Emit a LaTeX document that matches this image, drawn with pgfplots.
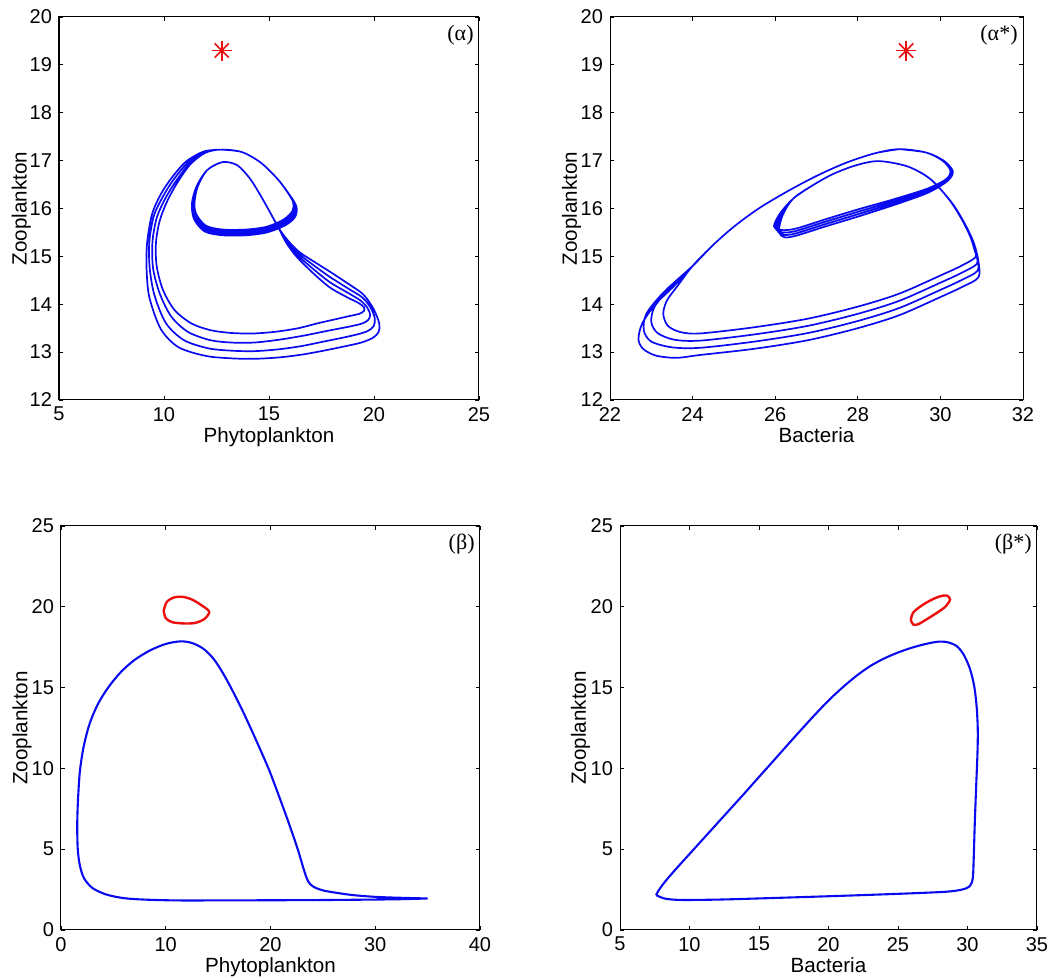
\documentclass[border=0pt]{standalone}
\usepackage{fontspec}
\setmainfont{Liberation Sans}
\newfontfamily\lserif{Liberation Serif}
\usepackage{pgfplots}
\pgfplotsset{compat=1.18}
\definecolor{mblue}{RGB}{10,10,240}
\definecolor{mred}{RGB}{235,15,15}
\pgfplotsset{
 panel/.style={
  scale only axis, anchor=south west,
  axis line style={line width=0.5pt},
  every tick/.style={black, line width=0.45pt},
  major tick length=2.2pt,
  tick align=inside,
  ticklabel style={font=\fontsize{10}{11}\selectfont},
  label style={font=\fontsize{10.3}{12}\selectfont},
  /pgf/number format/assume math mode=true,
  xlabel style={anchor=base},
  ylabel style={anchor=base},
 },
 traj/.style={mblue, line width=0.85pt, smooth, no markers},
 lim/.style={mred, line width=1.2pt, smooth, no markers},
 star/.style={only marks, mark size=5pt, mred, mark options={line width=0.8pt}},
}
\newcommand{\plab}[1]{\node[anchor=north east, inner sep=0pt, xshift=-2.5pt, yshift=-4pt, font=\lserif\fontsize{11}{12}\selectfont] at (rel axis cs:1,1) {#1};}
\begin{document}
\begin{tikzpicture}
\useasboundingbox (0,0) rectangle (531pt,489pt);
% ---------------- (alpha)
\begin{axis}[panel, at={(29.5pt,289pt)}, width=210pt, height=191.5pt,
  xmin=5, xmax=25, ymin=12, ymax=20, xtick={5,10,...,25}, ytick={12,13,...,20},
  xlabel={Phytoplankton}, ylabel={Zooplankton},
  xlabel style={at={(axis description cs:0.5,-0.112)}},
  ylabel style={at={(axis description cs:-0.077,0.5)}}]
\addplot[traj] coordinates {
(12.7,17.23) (13.7,17.18) (14.6,16.96) (15.4,16.62) (15.88,16.34) (16.15,16.13) (16.12,15.95) (15.7,15.77) (14.9,15.62) (13.9,15.56) (12.8,15.56) (12.0,15.64) (11.55,15.87) (11.45,16.1) (11.6,16.45) (12.05,16.8) (12.8,16.97) (13.5,16.9) (14.1,16.62) (14.6,16.27) (15.05,15.92) (15.45,15.6) (15.8,15.3) (16.3,15.0) (17.1,14.65) (17.9,14.35) (18.7,14.15) (19.25,14.03) (19.52,13.94) (19.52,13.86) (19.3,13.8) (18.8,13.75) (18.1,13.68) (17.3,13.6) (16.4,13.5) (15.4,13.43) (14.3,13.39) (13.2,13.4) (12.2,13.46) (11.3,13.6) (10.5,13.88) (9.95,14.3) (9.65,14.8) (9.62,15.3) (9.8,15.75) (10.15,16.15) (10.65,16.55) (11.25,16.92) (11.95,17.16)
(12.7,17.23) (13.7,17.18) (14.6,16.96) (15.4,16.62) (15.9,16.33) (16.2,16.11) (16.16,15.91) (15.72,15.73) (14.9,15.58) (13.9,15.52) (12.8,15.52) (11.98,15.6) (11.51,15.84) (11.41,16.1) (11.58,16.45) (12.05,16.8) (12.8,16.97) (13.5,16.9) (14.1,16.62) (14.6,16.27) (15.05,15.92) (15.45,15.6) (15.83,15.31) (16.35,15.03) (17.15,14.72) (17.9,14.46) (18.75,14.24) (19.35,14.08) (19.68,13.93) (19.82,13.78) (19.72,13.67) (19.45,13.6) (18.9,13.54) (18.2,13.48) (17.4,13.41) (16.6,13.34) (15.5,13.26) (14.3,13.2) (13.2,13.2) (12.2,13.25) (11.15,13.42) (10.35,13.74) (9.8,14.22) (9.48,14.75) (9.45,15.3) (9.65,15.8) (10.05,16.2) (10.55,16.56) (11.2,16.93) (11.93,17.17)
(12.7,17.23) (13.7,17.18) (14.6,16.96) (15.4,16.62) (15.92,16.32) (16.25,16.08) (16.2,15.87) (15.75,15.69) (14.9,15.54) (13.9,15.48) (12.8,15.48) (11.96,15.56) (11.47,15.81) (11.37,16.1) (11.56,16.45) (12.05,16.8) (12.8,16.97) (13.5,16.9) (14.1,16.62) (14.6,16.27) (15.05,15.92) (15.45,15.6) (15.86,15.32) (16.4,15.06) (17.2,14.79) (17.9,14.57) (18.8,14.32) (19.45,14.14) (19.85,13.92) (20.04,13.7) (19.98,13.54) (19.7,13.44) (19.2,13.37) (18.5,13.3) (17.6,13.22) (16.6,13.13) (15.5,13.06) (14.3,13.02) (13.2,13.03) (12.1,13.08) (10.95,13.25) (10.1,13.6) (9.55,14.18) (9.32,14.75) (9.3,15.3) (9.52,15.85) (9.95,16.25) (10.45,16.6) (11.12,16.95) (11.91,17.18)
(12.7,17.23) (13.7,17.18) (14.6,16.96) (15.4,16.62) (15.94,16.31) (16.3,16.05) (16.25,15.83) (15.78,15.65) (14.9,15.5) (13.9,15.44) (12.8,15.44) (11.94,15.52) (11.43,15.78) (11.33,16.1) (11.54,16.45) (12.05,16.8) (12.8,16.97) (13.5,16.9) (14.1,16.62) (14.6,16.27) (15.05,15.92) (15.45,15.6) (15.9,15.33) (16.45,15.09) (17.25,14.86) (17.9,14.68) (18.8,14.42) (19.5,14.2) (19.98,13.9) (20.25,13.6) (20.22,13.42) (19.95,13.3) (19.4,13.2) (18.6,13.12) (17.6,13.03) (16.6,12.95) (15.5,12.89) (14.3,12.86) (13.2,12.87) (12.0,12.92) (10.7,13.1) (9.85,13.48) (9.3,14.15) (9.17,14.75) (9.2,15.3) (9.43,15.88) (9.85,16.3) (10.38,16.65) (11.05,16.98) (11.89,17.19) (12.7,17.23)
};
\addplot[star, mark=+] coordinates {(12.75,19.3)};
\addplot[star, mark=x] coordinates {(12.75,19.3)};
\plab{(α)}
\end{axis}
% ---------------- (alpha*)
\begin{axis}[panel, at={(305pt,289pt)}, width=206.5pt, height=191.5pt,
  xmin=22, xmax=32, ymin=12, ymax=20, xtick={22,24,...,32}, ytick={12,13,...,20},
  xlabel={Bacteria}, ylabel={Zooplankton},
  xlabel style={at={(axis description cs:0.5,-0.112)}},
  ylabel style={at={(axis description cs:-0.08,0.5)}}]
\addplot[traj] coordinates {
(29.0,17.24) (29.65,17.17) (30.05,17.0) (30.24,16.8) (30.15,16.62) (29.7,16.42) (28.9,16.2) (28.0,15.98) (27.2,15.77) (26.5,15.58) (26.15,15.55) (25.97,15.63) (26.12,15.9) (26.44,16.21) (26.92,16.49) (27.4,16.72) (27.95,16.9) (28.5,16.99) (29.2,16.88) (29.75,16.62) (30.2,16.2) (30.5,15.8) (30.72,15.42) (30.83,15.12) (30.85,14.98) (30.5,14.8) (30.0,14.6) (29.0,14.22) (28.0,13.95) (26.8,13.7) (25.5,13.52) (24.18,13.39) (23.7,13.42) (23.4,13.55) (23.29,13.8) (23.38,14.08) (23.65,14.4) (24.0,14.8) (24.5,15.24) (25.0,15.62) (25.6,16.0) (26.3,16.36) (27.0,16.68) (27.7,16.95) (28.4,17.15)
(29.0,17.24) (29.65,17.17) (30.06,17.0) (30.26,16.8) (30.16,16.61) (29.7,16.39) (28.9,16.16) (28.0,15.93) (27.2,15.72) (26.5,15.53) (26.18,15.5) (26.01,15.59) (26.14,15.89) (26.44,16.21) (26.92,16.49) (27.4,16.72) (27.95,16.9) (28.5,16.99) (29.2,16.88) (29.75,16.62) (30.22,16.18) (30.52,15.77) (30.75,15.38) (30.86,15.05) (30.88,14.84) (30.5,14.65) (30.0,14.45) (29.0,14.07) (28.0,13.8) (26.8,13.55) (25.5,13.37) (24.18,13.24) (23.55,13.26) (23.15,13.4) (23.0,13.63) (23.08,13.95) (23.45,14.33) (24.0,14.8) (24.5,15.24) (25.0,15.62) (25.6,16.0) (26.3,16.36) (27.0,16.68) (27.7,16.95) (28.4,17.15)
(29.0,17.24) (29.65,17.17) (30.07,17.0) (30.28,16.79) (30.17,16.6) (29.7,16.36) (28.9,16.12) (28.0,15.88) (27.2,15.67) (26.5,15.48) (26.2,15.45) (26.05,15.56) (26.16,15.88) (26.44,16.21) (26.92,16.49) (27.4,16.72) (27.95,16.9) (28.5,16.99) (29.2,16.88) (29.75,16.62) (30.24,16.16) (30.55,15.74) (30.78,15.33) (30.89,14.98) (30.9,14.7) (30.5,14.5) (30.0,14.3) (29.0,13.92) (28.0,13.65) (26.8,13.4) (25.5,13.22) (24.18,13.09) (23.5,13.1) (23.0,13.22) (22.82,13.45) (22.88,13.8) (23.3,14.25) (24.0,14.8) (24.5,15.24) (25.0,15.62) (25.6,16.0) (26.3,16.36) (27.0,16.68) (27.7,16.95) (28.4,17.15)
(29.0,17.24) (29.65,17.17) (30.08,17.0) (30.3,16.78) (30.18,16.58) (29.7,16.33) (28.9,16.08) (28.0,15.83) (27.2,15.62) (26.5,15.43) (26.22,15.4) (26.09,15.52) (26.18,15.86) (26.44,16.21) (26.92,16.49) (27.4,16.72) (27.95,16.9) (28.5,16.99) (29.2,16.88) (29.75,16.62) (30.26,16.14) (30.58,15.7) (30.81,15.28) (30.92,14.9) (30.92,14.56) (30.5,14.35) (30.0,14.15) (29.0,13.77) (28.0,13.5) (26.8,13.25) (25.5,13.07) (24.18,12.94) (23.6,12.88) (23.1,12.93) (22.8,13.07) (22.69,13.27) (22.78,13.6) (23.1,14.0) (23.55,14.38) (24.0,14.8) (24.5,15.24) (25.0,15.62) (25.6,16.0) (26.3,16.36) (27.0,16.68) (27.7,16.95) (28.4,17.15) (29.0,17.24)
};
\addplot[star, mark=+] coordinates {(29.17,19.3)};
\addplot[star, mark=x] coordinates {(29.17,19.3)};
\plab{(α*)}
\end{axis}
% ---------------- (beta)
\begin{axis}[panel, at={(30.5pt,24pt)}, width=209.5pt, height=202pt,
  xmin=0, xmax=40, ymin=0, ymax=25, xtick={0,10,...,40}, ytick={0,5,...,25},
  xlabel={Phytoplankton}, ylabel={Zooplankton},
  xlabel style={at={(axis description cs:0.5,-0.106)}},
  ylabel style={at={(axis description cs:-0.08,0.5)}}]
\addplot[traj, line width=1.05pt] coordinates {
(35.0,1.95) (32,1.9) (28,1.87) (24,1.85) (20,1.84) (15,1.83) (11,1.83) (8,1.88) (6,1.97) (4.3,2.2) (3.0,2.6) (2.2,3.2) (1.8,4.0) (1.6,5.0) (1.55,6.5) (1.62,8.0) (1.8,9.8) (2.15,11.3) (2.7,12.7) (3.5,13.95) (4.5,15.0) (5.7,15.95) (7.0,16.7) (8.5,17.3) (10.0,17.7) (11.4,17.86) (12.5,17.76) (13.6,17.4) (14.6,16.75) (15.5,15.85) (16.3,14.9) (17.2,13.75) (18.1,12.5) (19.0,11.2) (19.9,9.85) (20.8,8.3) (21.7,6.7) (22.6,5.0) (23.2,3.7) (23.6,3.0) (24.1,2.68) (25.0,2.45) (26.5,2.28) (28,2.15) (30,2.05) (32,2.0) (35.0,1.95)
};
\addplot[lim] coordinates {
(9.8,19.75) (10.1,20.3) (10.8,20.58) (11.6,20.62) (12.5,20.45) (13.4,20.1) (14.15,19.7) (13.7,19.25) (12.8,19.0) (11.7,18.97) (10.6,19.05) (10.0,19.3) (9.8,19.75)
};
\plab{(β)}
\end{axis}
% ---------------- (beta*)
\begin{axis}[panel, at={(310pt,24pt)}, width=208.5pt, height=202pt,
  xmin=5, xmax=35, ymin=0, ymax=25, xtick={5,10,...,35}, ytick={0,5,...,25},
  xlabel={Bacteria}, ylabel={Zooplankton},
  xlabel style={at={(axis description cs:0.5,-0.106)}},
  ylabel style={at={(axis description cs:-0.082,0.5)}}]
\addplot[traj, line width=1.05pt] coordinates {
(7.6,2.16) (8.2,1.95) (9.3,1.86) (12,1.88) (15.3,1.96) (19,2.06) (22.5,2.16) (26,2.27) (28.5,2.37) (29.6,2.5) (30.15,2.7) (30.38,3.2) (30.45,4.5) (30.52,6.5) (30.62,8.8) (30.72,11) (30.74,12.4) (30.66,13.8) (30.48,15.1) (30.18,16.15) (29.75,17.0) (29.25,17.55) (28.6,17.8) (27.9,17.84) (27.0,17.7) (26.0,17.47) (25.0,17.17) (24.0,16.8) (23.0,16.33) (22.0,15.72) (21.0,15.0) (20.0,14.2) (19.0,13.3) (18.0,12.36) (17.0,11.4) (16.0,10.43) (15.0,9.47) (14.0,8.5) (13.0,7.55) (12.0,6.6) (11.0,5.65) (10.0,4.7) (9.0,3.75) (8.25,3.0) (7.78,2.45) (7.6,2.16)
};
\addplot[lim] coordinates {
(25.92,19.18) (26.1,19.65) (26.75,20.1) (27.45,20.45) (28.0,20.64) (28.5,20.7) (28.75,20.45) (28.4,20.0) (27.75,19.6) (27.05,19.22) (26.45,18.92) (26.1,18.9) (25.92,19.18)
};
\plab{(β*)}
\end{axis}
\end{tikzpicture}
\end{document}
